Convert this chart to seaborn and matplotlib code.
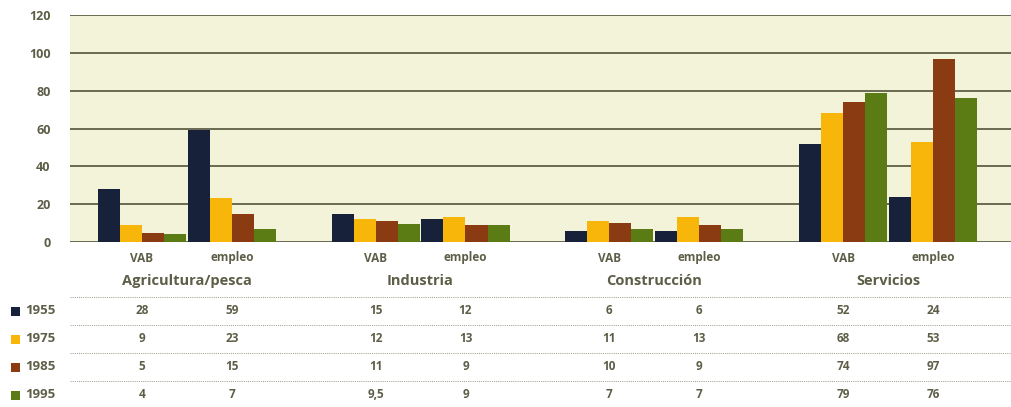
import numpy as np
import pandas as pd
import matplotlib
matplotlib.use("Agg")
import matplotlib.pyplot as plt
from matplotlib.patches import Rectangle
import seaborn as sns

sectors = ["Agricultura/pesca", "Industria", "Construcción", "Servicios"]
subgroups = ["VAB", "empleo"]
years = ["1955", "1975", "1985", "1995"]
v1955 = [28, 59, 15, 12, 6, 6, 52, 24]
v1975 = [9, 23, 12, 13, 11, 13, 68, 53]
v1985 = [5, 15, 11, 9, 10, 9, 74, 97]
v1995 = [4, 7, 9.5, 9, 7, 7, 79, 76]
yticks = [0, 20, 40, 60, 80, 100, 120]

colors = ["#18213a", "#f8b50a", "#8a3b12", "#5b7c14"]
text_col = "#5e5e48"
grid_col = "#6a6a52"

series = [v1955, v1975, v1985, v1995]
sector_gap = 2.6
positions = []
for si in range(len(sectors)):
    for sj in range(len(subgroups)):
        positions.append(si * sector_gap + sj)

rows = []
for y, vals in zip(years, series):
    for p, v in zip(positions, vals):
        rows.append({"pos": p, "value": v, "year": y})
df = pd.DataFrame(rows)

sns.set_theme(style="white")
plt.rcParams["font.family"] = ["Open Sans", "DejaVu Sans"]

fig = plt.figure(figsize=(10.12, 4.07), dpi=100)
W, H = 1012, 407
ax = fig.add_axes([70 / W, 1 - 242 / H, (1012 - 70) / W, (242 - 15) / H])
ax.set_facecolor("#f3f3da")

sns.barplot(data=df, x="pos", y="value", hue="year", native_scale=True,
            palette=colors, width=0.98, ax=ax, legend=False, saturation=1,
            linewidth=0, errorbar=None)

ax.set_ylim(0, 120)
ax.set_xlim(-0.8, 9.68)
ax.set_yticks(yticks)
ax.set_yticklabels([str(t) for t in yticks], fontsize=9, fontweight="bold",
                   color=text_col)
ax.tick_params(axis="y", length=0, pad=14)
ax.set_xticks([])
ax.set_xlabel("")
ax.set_ylabel("")
for t in yticks:
    ax.axhline(t, color=grid_col, lw=1.4, zorder=0.5)
for s in ax.spines.values():
    s.set_visible(False)

trans = ax.get_xaxis_transform()
ah = 227.0

def ay(py):
    return (242 - py) / ah

for i, p in enumerate(positions):
    ax.text(p, ay(258), subgroups[i % 2], transform=trans, ha="center",
            va="center", fontsize=8.5, fontweight="bold", color=text_col,
            clip_on=False)
for si, s in enumerate(sectors):
    ax.text(si * sector_gap + 0.5, ay(281), s, transform=trans, ha="center",
            va="center", fontsize=10.5, fontweight="bold", color=text_col,
            clip_on=False)

line_y = [297, 325, 353, 381]
row_y = [311, 339, 367, 395]
for ly in line_y:
    ax.plot([-0.8, 9.68], [ay(ly), ay(ly)], transform=trans, color="#9a9a88",
            lw=0.7, ls=(0, (1, 1.2)), clip_on=False)
for yi, (yr, vals) in enumerate(zip(years, series)):
    ry = row_y[yi]
    for p, v in zip(positions, vals):
        s = (f"{v:g}").replace(".", ",")
        ax.text(p, ay(ry), s, transform=trans, ha="center", va="center",
                fontsize=8.5, fontweight="bold", color=text_col, clip_on=False)
    fig.patches.append(Rectangle((11 / W, 1 - (ry + 4.5) / H), 9 / W, 9 / H,
                                 transform=fig.transFigure,
                                 facecolor=colors[yi], edgecolor="none"))
    fig.text(25 / W, 1 - ry / H, yr, ha="left", va="center", fontsize=9.5,
             fontweight="bold", color=text_col)

fig.savefig("out.png", dpi=100, facecolor="white")
